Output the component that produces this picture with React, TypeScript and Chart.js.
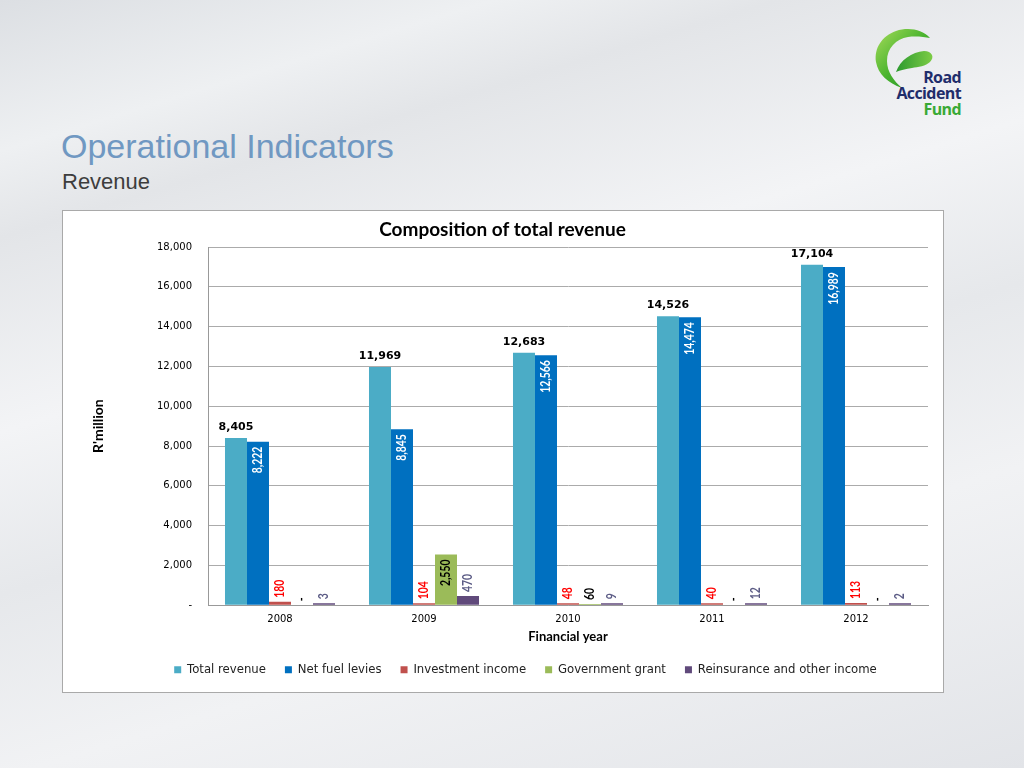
import React, { useEffect, useRef } from 'react';
import { Chart, registerables } from 'chart.js';

Chart.register(...registerables);

// ---- Data ----
const years = ['2008', '2009', '2010', '2011', '2012'];
const seriesNames = [
  'Total revenue',
  'Net fuel levies',
  'Investment income',
  'Government grant',
  'Reinsurance and other income',
];
const totalRevenue = [8405, 11969, 12683, 14526, 17104];
const netFuelLevies = [8222, 8845, 12566, 14474, 16989];
const investmentIncome = [180, 104, 48, 40, 113];
const governmentGrant = [0, 2550, 60, 0, 0];
const reinsuranceOther = [3, 470, 9, 12, 2];
const seriesColors = ['#4BACC6', '#0070C0', '#C0504D', '#9BBB59', '#604A7B'];
const labelColors = ['#000000', '#FFFFFF', '#FF0000', '#000000', '#5B5B85'];
const yMin = 0;
const yMax = 18000;
const yStep = 2000;

const seriesValues = [totalRevenue, netFuelLevies, investmentIncome, governmentGrant, reinsuranceOther];
const minLengths = [0, 0, 2, 0, 2];

const fmt = (v: number) => (v === 0 ? '-' : v.toLocaleString('en-US'));

const SQUEEZE = 0.8;

const valueLabelPlugin = {
  id: 'valueLabels',
  afterDatasetsDraw(chart: any) {
    const ctx = chart.ctx as CanvasRenderingContext2D;
    const yScale = chart.scales.y;
    const base = yScale.getPixelForValue(0);
    seriesValues.forEach((vals, di) => {
      const meta = chart.getDatasetMeta(di);
      meta.data.forEach((el: any, i: number) => {
        const v = vals[i];
        const text = fmt(v);
        const x = el.x;
        const top = v === 0 ? base : Math.min(el.y, base);
        ctx.save();
        ctx.fillStyle = labelColors[di];
        if (di === 0) {
          ctx.font = 'bold 11px "DejaVu Sans"';
          ctx.textAlign = 'center';
          ctx.textBaseline = 'alphabetic';
          ctx.fillText(text, x, top - 8);
        } else {
          ctx.font = 'bold 13px Lato';
          const w = ctx.measureText(text).width * SQUEEZE;
          const h = base - top;
          ctx.translate(x, 0);
          ctx.rotate(-Math.PI / 2);
          ctx.scale(SQUEEZE, 1);
          ctx.textBaseline = 'middle';
          if (di === 1 || h > w + 12) {
            ctx.textAlign = 'right';
            ctx.fillText(text, -(top + 5) / SQUEEZE, 0);
          } else {
            ctx.textAlign = 'left';
            ctx.fillText(text, -(top - 4) / SQUEEZE, 0);
          }
        }
        ctx.restore();
      });
    });
  },
};

const LEGEND_DX = 30;
const LEGEND_TOP = 434;
const TITLE_DX = 7;

const shiftPlugin = {
  id: 'shiftBoxes',
  afterLayout(chart: any) {
    const lg = chart.legend;
    if (lg) {
      const h = lg.height;
      lg.left += LEGEND_DX;
      lg.right += LEGEND_DX;
      lg.top = LEGEND_TOP;
      lg.bottom = LEGEND_TOP + h;
    }
    const tb = chart.titleBlock;
    if (tb) {
      tb.left += TITLE_DX;
      tb.right += TITLE_DX;
    }
  },
};

function RevenueChart() {
  const ref = useRef<HTMLCanvasElement | null>(null);
  useEffect(() => {
    if (!ref.current) return;
    const chart = new Chart(ref.current, {
      type: 'bar',
      data: {
        labels: years,
        datasets: seriesValues.map((vals, di) => ({
          label: seriesNames[di],
          data: vals,
          backgroundColor: seriesColors[di],
          borderWidth: 0,
          minBarLength: minLengths[di],
          categoryPercentage: 0.764,
          barPercentage: 1,
        })),
      },
      options: {
        animation: false,
        responsive: false,
        layout: { padding: { left: 0, right: 15, top: 0, bottom: 0 } },
        plugins: {
          title: {
            display: true,
            text: 'Composition of total revenue',
            color: '#000',
            font: { family: 'Lato', size: 19, weight: 'bold' },
            padding: { top: 7, bottom: 6.2 },
          },
          legend: {
            position: 'bottom',
            maxHeight: 42,
            labels: {
              boxWidth: 7,
              boxHeight: 7,
              padding: 19,
              color: '#222',
              font: { family: '"DejaVu Sans"', size: 11.7 },
            },
          },
          tooltip: { enabled: false },
        },
        scales: {
          x: {
            grid: { display: false, drawTicks: false },
            border: { display: true, color: '#999' },
            ticks: {
              color: '#000',
              padding: 8,
              font: { family: '"DejaVu Sans"', size: 10 },
            },
            title: {
              display: true,
              text: 'Financial year',
              color: '#000',
              font: { family: 'Lato', size: 13, weight: 'bold' },
              padding: { top: 0, bottom: 7 },
            },
            afterFit(scale: any) {
              scale.height = 46;
            },
          },
          y: {
            min: yMin,
            max: yMax,
            grid: { color: '#ababab', drawTicks: false },
            border: { display: true, color: '#999' },
            ticks: {
              stepSize: yStep,
              color: '#000',
              padding: 16,
              font: { family: '"DejaVu Sans"', size: 10 },
              callback: (v: any) => fmt(Number(v)),
            },
            title: {
              display: true,
              text: "R'million",
              color: '#000',
              font: { family: 'Lato', size: 14, weight: 'bold' },
              padding: { top: 27, bottom: 0 },
            },
            afterFit(scale: any) {
              scale.width = 145;
            },
          },
        },
      },
      plugins: [valueLabelPlugin, shiftPlugin],
    } as any);
    return () => chart.destroy();
  }, []);
  return <canvas ref={ref} width={880} height={481} style={{ display: 'block', width: 880, height: 481 }} />;
}

function Logo() {
  return (
    <div style={{ position: 'absolute', left: 872, top: 26, width: 92, height: 96 }}>
      <svg width="70" height="66" viewBox="0 0 70 66" style={{ position: 'absolute', left: 0, top: 0 }}>
        <defs>
          <linearGradient id="lg1" x1="0" y1="0" x2="1" y2="1">
            <stop offset="0" stopColor="#a6dc5a" />
            <stop offset="0.5" stopColor="#49b32e" />
            <stop offset="1" stopColor="#1e8c2c" />
          </linearGradient>
          <linearGradient id="lg2" x1="0" y1="0" x2="1" y2="0">
            <stop offset="0" stopColor="#2c9a2f" />
            <stop offset="1" stopColor="#7ccc45" />
          </linearGradient>
        </defs>
        <path
          d="M58,12 C50,3 36,1 24,5 C10,10 2,22 4,36 C6,48 16,57 30,62 C22,55 15,46 15,35 C15,22 24,13 36,11 C44,10 52,11 58,12 Z"
          fill="url(#lg1)"
        />
        <path
          d="M24,46 C28,34 40,26 52,25 C60,25 63,31 58,36 C54,40 46,41 40,42 C34,43 28,44 24,46 Z"
          fill="url(#lg2)"
        />
      </svg>
      <div
        style={{
          position: 'absolute',
          right: 3,
          top: 43,
          textAlign: 'right',
          fontFamily: '"Open Sans", sans-serif',
          fontWeight: 700,
          fontSize: 16,
          lineHeight: '16px',
          letterSpacing: -0.6,
        }}
      >
        <div style={{ color: '#1f2d6b' }}>Road</div>
        <div style={{ color: '#1f2d6b' }}>Accident</div>
        <div style={{ color: '#39a935' }}>Fund</div>
      </div>
    </div>
  );
}

export default function App() {
  return (
    <div
      style={{
        position: 'fixed',
        left: 0,
        top: 0,
        width: 1024,
        height: 768,
        overflow: 'hidden',
        background:
          'linear-gradient(163deg, #dcdfe3 0%, #eef0f2 14%, #e3e5e8 22%, #f3f4f6 40%, #e6e8eb 55%, #f1f2f4 72%, #e2e4e8 100%)',
        fontFamily: '"Liberation Sans", Arial, sans-serif',
      }}
    >
      <Logo />
      <div style={{ position: 'absolute', left: 61, top: 126, fontSize: 34, color: '#7098C2', lineHeight: '40px' }}>
        Operational Indicators
      </div>
      <div style={{ position: 'absolute', left: 62, top: 169, fontSize: 22, color: '#3d3d3d', lineHeight: '26px' }}>
        Revenue
      </div>
      <div
        style={{
          position: 'absolute',
          left: 62,
          top: 210,
          width: 880,
          height: 481,
          border: '1px solid #a9a9a9',
          background: '#ffffff',
        }}
      >
        <RevenueChart />
      </div>
    </div>
  );
}
